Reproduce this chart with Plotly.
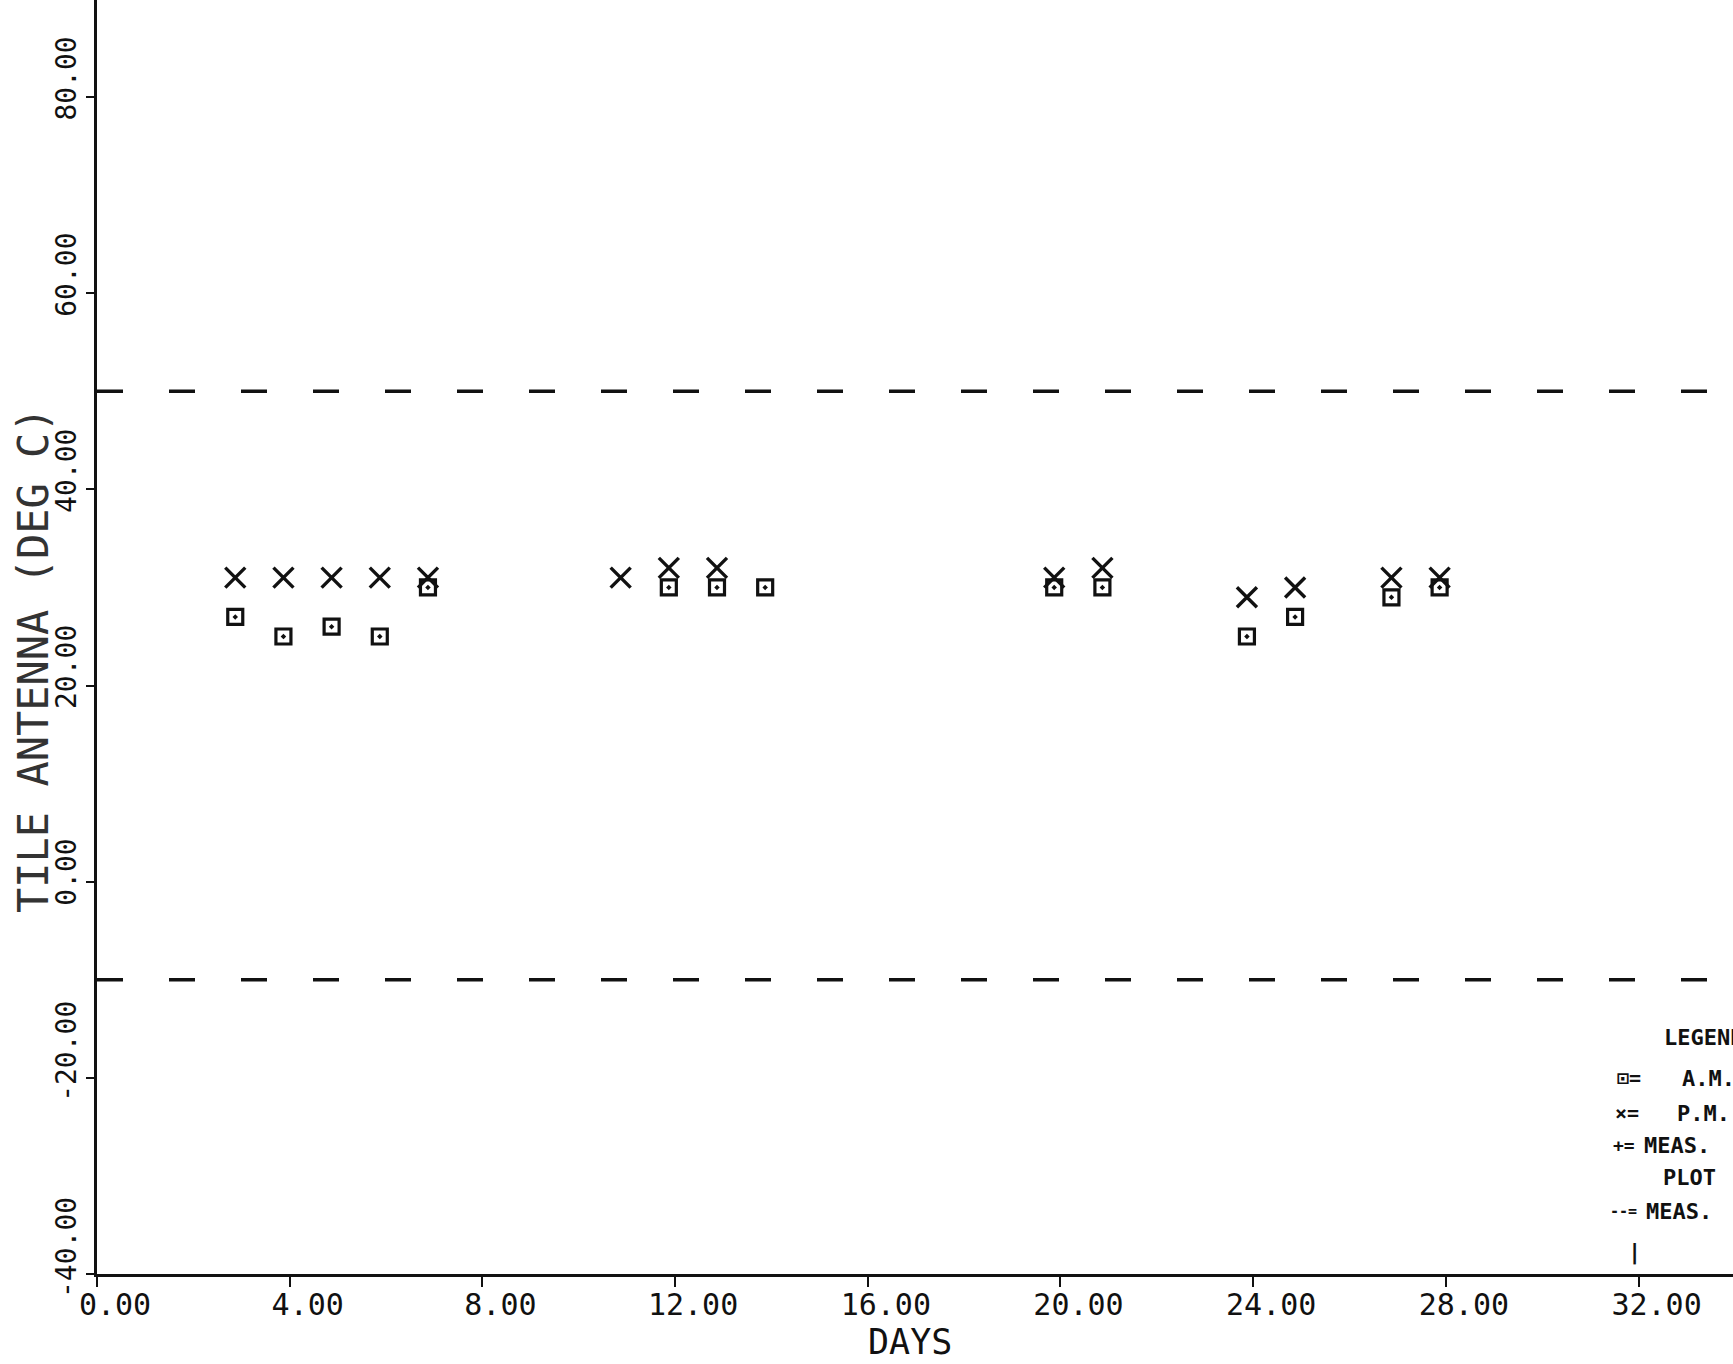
import plotly.graph_objects as go

# ---- data ----
pm_days = [2.87, 3.87, 4.87, 5.87, 6.87, 10.87, 11.87, 12.87, 19.87, 20.87, 23.87, 24.87, 26.87, 27.87]
pm_temp = [31, 31, 31, 31, 31, 31, 32, 32, 31, 32, 29, 30, 31, 31]

am_days = [2.87, 3.87, 4.87, 5.87, 6.87, 11.87, 12.87, 13.87, 19.87, 20.87, 23.87, 24.87, 26.87, 27.87]
am_temp = [27, 25, 26, 25, 30, 30, 30, 30, 30, 30, 25, 27, 29, 30]

limit_values = [50, -10]
x_ticks = [0, 4, 8, 12, 16, 20, 24, 28, 32]
x_tick_text = ["0.00", "4.00", "8.00", "12.00", "16.00", "20.00", "24.00", "28.00", "32.00"]
y_ticks = [-40, -20, 0, 20, 40, 60, 80]
y_tick_text = ["-40.00", "-20.00", "0.00", "20.00", "40.00", "60.00", "80.00"]

X_RANGE = [0, 33.96]
Y_RANGE = [-40, 89.9]
FONT = "DejaVu Sans Mono"
INK = "#111111"

fig = go.Figure()

for lv in limit_values:
    fig.add_trace(go.Scatter(
        x=X_RANGE, y=[lv, lv], mode="lines",
        line=dict(color=INK, width=3.5, dash="26px,46px"),
        showlegend=False, hoverinfo="skip"))

fig.add_trace(go.Scatter(
    x=am_days, y=am_temp, mode="markers", name="A.M.",
    marker=dict(symbol="square-open-dot", size=15, color=INK,
                line=dict(width=3.2, color=INK)),
    showlegend=False))

fig.add_trace(go.Scatter(
    x=pm_days, y=pm_temp, mode="markers", name="P.M.",
    marker=dict(symbol="x-thin-open", size=20, color=INK,
                line=dict(width=3.4, color=INK)),
    showlegend=False))

# y tick labels (rotated, starting just below the tick and running upward)
for v, t in zip(y_ticks, y_tick_text):
    fig.add_annotation(
        x=0, xref="paper", y=v, yref="y", text=t, textangle=-90,
        xanchor="right", yanchor="bottom", xshift=-12, yshift=-26,
        showarrow=False, font=dict(family=FONT, size=28, color=INK))

# y axis title
fig.add_annotation(
    x=0, xref="paper", y=22.6, yref="y", text="TILE ANTENNA (DEG C)",
    textangle=-90, xanchor="center", yanchor="middle", xshift=-64,
    showarrow=False, font=dict(family=FONT, size=42, color="#333333"))

# legend text block (cut by right page edge as in the reference)
W, H = 1733, 1364
L, B = 97, 90
pw, ph = W - L, H - B
legend_items = [
    (1662, 1037, "LEGEND", 22),
    (1615, 1078, "⊡=", 20),
    (1680, 1078, "A.M.", 22),
    (1613, 1113, "×=", 20),
    (1675, 1113, "P.M.", 22),
    (1611, 1145, "+=", 18),
    (1642, 1145, "MEAS.", 22),
    (1661, 1177, "PLOT", 22),
    (1608, 1211, "--=", 15),
    (1644, 1211, "MEAS.", 22),
    (1626, 1252, "|", 22),
]
for px, py, t, fs in legend_items:
    fig.add_annotation(
        x=(px - L) / pw, xref="paper", y=(H - B - py) / ph, yref="paper",
        text=t, xanchor="left", yanchor="middle", showarrow=False,
        font=dict(family=FONT, size=fs, color=INK, weight="bold"))

# x axis title
fig.add_annotation(
    x=0.5, xref="paper", y=0, yref="paper", text="DAYS",
    xanchor="center", yanchor="top", yshift=-46, xshift=-5,
    showarrow=False, font=dict(family=FONT, size=35, color=INK))

fig.update_layout(
    width=W, height=H,
    margin=dict(l=L, r=0, t=0, b=B),
    paper_bgcolor="white", plot_bgcolor="white",
    xaxis=dict(
        range=X_RANGE, tickmode="array", tickvals=x_ticks, ticktext=x_tick_text,
        showline=True, linecolor=INK, linewidth=3, ticks="outside",
        ticklen=10, tickwidth=2, tickcolor=INK, showgrid=False, zeroline=False,
        ticklabelshift=18, ticklabelstandoff=-8,
        tickfont=dict(family=FONT, size=30, color=INK)),
    yaxis=dict(
        range=Y_RANGE, tickmode="array", tickvals=y_ticks, showticklabels=False,
        showline=True, linecolor=INK, linewidth=3, ticks="outside",
        ticklen=8, tickwidth=2, tickcolor=INK, showgrid=False, zeroline=False),
)

fig.write_html("out.html")
